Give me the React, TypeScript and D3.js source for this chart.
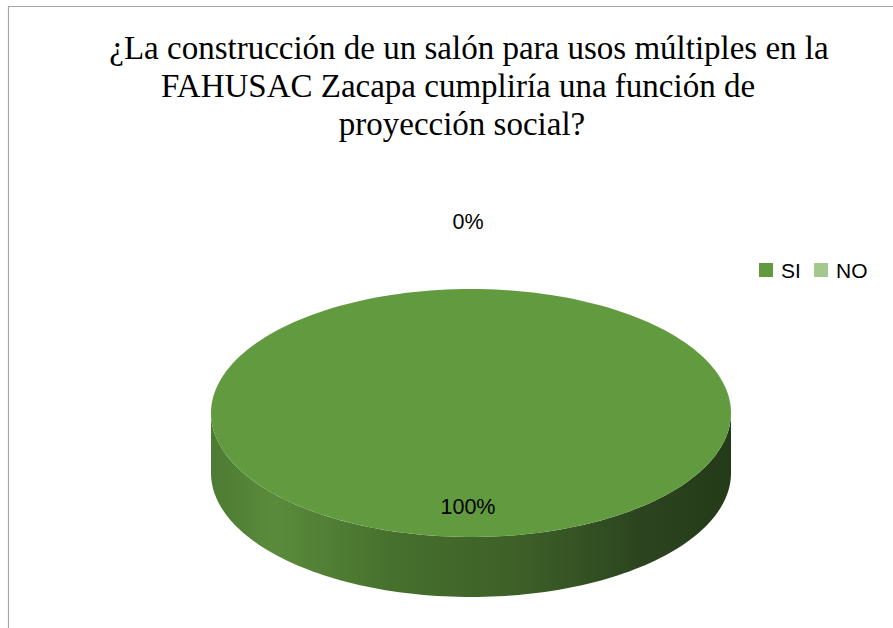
import React from "react";
import * as d3 from "d3";

const titleLines = [
  "¿La construcción de un salón para usos múltiples en la",
  "FAHUSAC Zacapa cumpliría una función de",
  "proyección social?",
];
const titleCenters = [469, 458, 462];
const categories = ["SI", "NO"];
const values = [100, 0];
const labels = ["100%", "0%"];
const topColors = ["#619a3f", "#a3c78c"];

const W = 893;
const H = 628;

export default function App() {
  const cx = 471;
  const cy = 413;
  const rx = 260;
  const ry = 124;
  const depth = 60;

  const pie = d3.pie<number>().sort(null).value((d) => d)(values);

  const pt = (a: number, dy = 0): [number, number] => [
    cx + rx * Math.sin(a),
    cy - ry * Math.cos(a) + dy,
  ];

  const line = d3.line();

  const topPath = (a0: number, a1: number) => {
    const n = Math.max(2, Math.ceil(((a1 - a0) / (2 * Math.PI)) * 200));
    const pts = d3.range(n + 1).map((i) => pt(a0 + ((a1 - a0) * i) / n));
    const full = a1 - a0 >= 2 * Math.PI - 1e-6;
    if (full) return line(pts) + "Z";
    return line([[cx, cy], ...pts]) + "Z";
  };

  const sidePath = (a0: number, a1: number) => {
    const s = Math.max(a0, Math.PI / 2);
    const e = Math.min(a1, (3 * Math.PI) / 2);
    if (e <= s) return null;
    const n = 120;
    const top = d3.range(n + 1).map((i) => pt(s + ((e - s) * i) / n));
    const bot = d3
      .range(n + 1)
      .map((i) => pt(e - ((e - s) * i) / n, depth));
    return line([...top, ...bot]) + "Z";
  };

  const x0 = cx - rx;
  const x1 = cx + rx;

  return (
    <svg
      width={W}
      height={H}
      style={{ position: "absolute", left: 0, top: 0, background: "#fff" }}
    >
      <defs>
        <linearGradient
          id="sideGrad"
          gradientUnits="userSpaceOnUse"
          x1={x0}
          y1={0}
          x2={x1}
          y2={0}
        >
          <stop offset="0%" stopColor="#4d7b33" />
          <stop offset="12%" stopColor="#5a8b3b" />
          <stop offset="35%" stopColor="#46702d" />
          <stop offset="60%" stopColor="#3d5f27" />
          <stop offset="82%" stopColor="#2c4520" />
          <stop offset="100%" stopColor="#243a18" />
        </linearGradient>
      </defs>
      <rect x={0} y={0} width={W} height={H} fill="#fff" />
      <path
        d={`M8.5,${H + 2}V6.5H${W + 2}`}
        fill="none"
        stroke="#a6a6a6"
        strokeWidth={1.2}
      />
      <g
        style={{ fontFamily: "Liberation Serif, Times New Roman, serif" }}
        fontSize={33}
        fill="#000"
        textAnchor="middle"
      >
        {titleLines.map((t, i) => (
          <text key={i} x={titleCenters[i]} y={59 + i * 38}>
            {t}
          </text>
        ))}
      </g>
      {pie.map((d, i) => {
        const p = sidePath(d.startAngle, d.endAngle);
        return p ? <path key={"s" + i} d={p} fill="url(#sideGrad)" /> : null;
      })}
      {pie.map((d, i) =>
        d.endAngle - d.startAngle > 1e-9 ? (
          <path
            key={"t" + i}
            d={topPath(d.startAngle, d.endAngle)}
            fill={topColors[i]}
          />
        ) : null
      )}
      <g
        style={{ fontFamily: "Liberation Sans, Arial, sans-serif" }}
        fontSize={21.5}
        fill="#000"
        textAnchor="middle"
      >
        {pie.map((d, i) => {
          const mid = (d.startAngle + d.endAngle) / 2;
          const empty = d.endAngle - d.startAngle < 1e-9;
          const f = empty ? 1.55 : 0.75;
          const x = cx + f * rx * Math.sin(mid) - 3;
          const y = cy - f * ry * Math.cos(mid) + 8;
          return (
            <text key={"l" + i} x={x} y={y}>
              {labels[i]}
            </text>
          );
        })}
      </g>
      <g style={{ fontFamily: "Liberation Sans, Arial, sans-serif" }} fontSize={21}>
        {categories.map((c, i) => {
          const lx = 759 + i * 55;
          return (
            <g key={c}>
              <rect x={lx} y={263} width={14} height={14} fill={topColors[i]} />
              <text x={lx + 22} y={278} fill="#000">
                {c}
              </text>
            </g>
          );
        })}
      </g>
    </svg>
  );
}
